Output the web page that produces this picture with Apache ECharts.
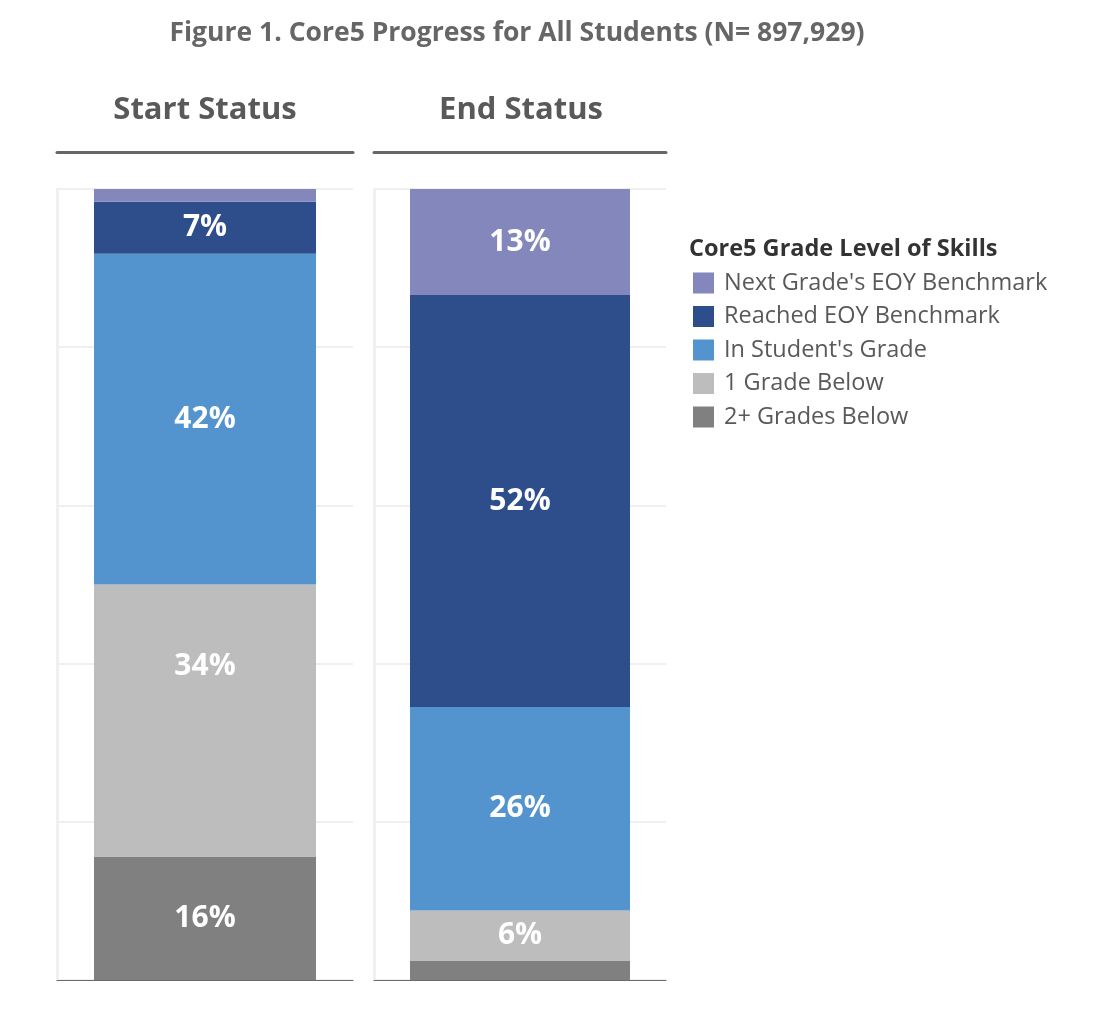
<!DOCTYPE html>
<html><head><meta charset="utf-8">
<script src="https://cdn.jsdelivr.net/npm/echarts@6/dist/echarts.min.js"></script>
<style>html,body{margin:0;padding:0;background:#fff}#c{width:1102px;height:1014px}</style>
</head><body><div id="c"></div>
<script>
const panels = ['Start Status', 'End Status'];
const seriesNames = ["Next Grade's EOY Benchmark", 'Reached EOY Benchmark', "In Student's Grade", '1 Grade Below', '2+ Grades Below'];
const nextGrade = [1.6, 13.4];
const reached = [6.6, 52.1];
const inGrade = [41.8, 25.7];
const oneBelow = [34.4, 6.4];
const twoPlus = [15.6, 2.4];
const colors = ['#8387BC', '#2D4E8A', '#5494CE', '#BDBDBD', '#808080'];
const yTicks = [0, 20, 40, 60, 80, 100];

const values = [nextGrade, reached, inGrade, oneBelow, twoPlus];
const FONT = '"Open Sans", sans-serif';
const chart = echarts.init(document.getElementById('c'));

const grids = [
  {left: 57, width: 296, top: 189, height: 791},
  {left: 374, width: 292, top: 189, height: 791}
];
const xAxes = [], yAxes = [];
panels.forEach((p, i) => {
  xAxes.push({type: 'category', gridIndex: i, data: [p], position: 'bottom',
    axisLine: {show: true, lineStyle: {color: '#6b6b6b', width: 1}},
    axisTick: {show: false}, axisLabel: {show: false}, splitLine: {show: false}});
  xAxes.push({type: 'category', gridIndex: i, data: [p], position: 'top', offset: 36.5,
    axisLine: {show: true, lineStyle: {color: '#666666', width: 3}},
    axisTick: {show: false}, axisLabel: {show: false}, splitLine: {show: false}});
  yAxes.push({type: 'value', gridIndex: i, min: yTicks[0], max: yTicks[yTicks.length - 1], interval: yTicks[1] - yTicks[0],
    axisLine: {show: true, lineStyle: {color: '#f0f0f0', width: 3}},
    axisTick: {show: false}, axisLabel: {show: false},
    splitLine: {show: true, lineStyle: {color: '#efefef', width: 2}}});
});

const series = [];
panels.forEach((p, i) => {
  for (let k = seriesNames.length - 1; k >= 0; k--) {
    const v = values[k][i];
    const item = {value: v};
    // the reference draws the Start "1 Grade Below" label higher than the segment centre
    if (i === 0 && k === 3) item.label = {offset: [0, -54]};
    series.push({
      type: 'bar', name: seriesNames[k], xAxisIndex: i * 2, yAxisIndex: i,
      stack: 'panel' + i, barWidth: i === 0 ? 222 : 220,
      itemStyle: {color: colors[k]},
      data: [item],
      label: {show: v >= 5, position: 'inside', color: '#ffffff',
        fontFamily: FONT, fontWeight: 'bold', fontSize: 30,
        formatter: (d) => Math.round(d.value) + '%'},
      emphasis: {disabled: true}
    });
  }
});

chart.setOption({
  animation: false,
  backgroundColor: '#ffffff',
  title: [
    {text: 'Figure 1. Core5 Progress for All Students (N= 897,929)', left: 517, top: 20, textAlign: 'center', padding: 0,
      textStyle: {fontFamily: FONT, fontWeight: 'bold', fontSize: 26.5, color: '#666666'}},
    {text: panels[0], left: 205, top: 95, textAlign: 'center', padding: 0,
      textStyle: {fontFamily: FONT, fontWeight: 'bold', fontSize: 31, color: '#595959'}},
    {text: panels[1], left: 521, top: 95, textAlign: 'center', padding: 0,
      textStyle: {fontFamily: FONT, fontWeight: 'bold', fontSize: 31, color: '#595959'}},
    {text: 'Core5 Grade Level of Skills', left: 689, top: 237, padding: 0,
      textStyle: {fontFamily: FONT, fontWeight: 'bold', fontSize: 23.5, color: '#333333'}}
  ],
  legend: {
    data: seriesNames, orient: 'vertical', left: 693, top: 271, icon: 'rect', padding: 0,
    itemWidth: 21, itemHeight: 21, itemGap: 9.5, selectedMode: false,
    textStyle: {fontFamily: FONT, fontSize: 23.5, color: '#595959', padding: [0, 0, 0, 5]}
  },
  grid: grids,
  xAxis: xAxes,
  yAxis: yAxes,
  series: series
});
</script></body></html>
